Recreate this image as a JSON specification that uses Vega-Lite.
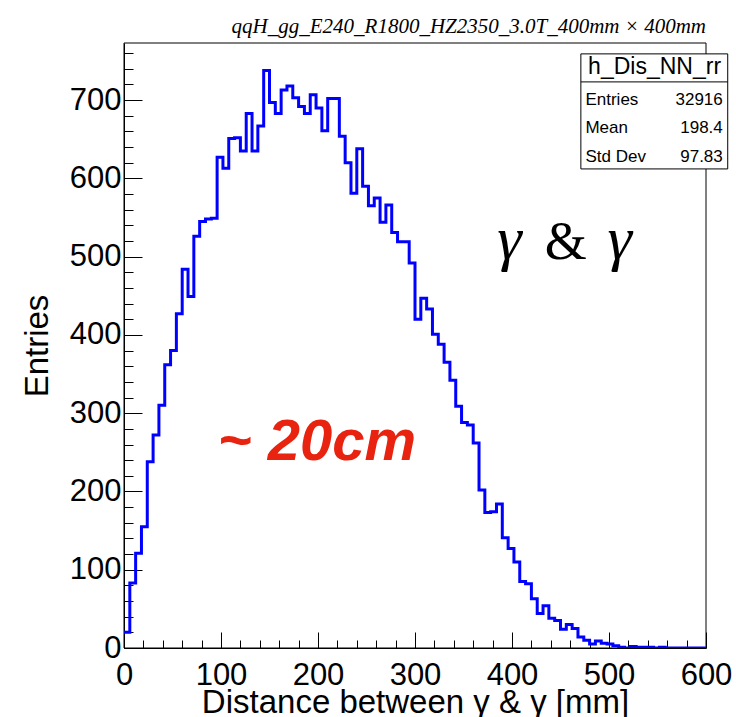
{
  "$schema": "https://vega.github.io/schema/vega-lite/v6.json",
  "width": 582,
  "height": 605,
  "autosize": "none",
  "padding": {"left": 124, "top": 43, "right": 30, "bottom": 69},
  "background": "white",
  "title": {
    "text": "qqH_gg_E240_R1800_HZ2350_3.0T_400mm × 400mm",
    "anchor": "end",
    "frame": "group",
    "font": "Liberation Serif",
    "fontStyle": "italic",
    "fontWeight": "normal",
    "fontSize": 21,
    "color": "black",
    "baseline": "alphabetic",
    "offset": -17
  },
  "config": {
    "view": {"stroke": null},
    "axis": {
      "grid": false,
      "domainColor": "black",
      "domainWidth": 1,
      "tickColor": "black",
      "tickWidth": 1,
      "labelColor": "black",
      "titleColor": "black",
      "labelFont": "Liberation Sans",
      "titleFont": "Liberation Sans",
      "labelFontSize": 31,
      "titleFontSize": 33,
      "titleFontWeight": "normal",
      "labelOverlap": false,
      "labelFlush": false,
      "labelBound": false
    }
  },
  "layer": [
    {
      "data": {"values": [{}]},
      "mark": {"type": "rect", "fill": null, "fillOpacity": 0, "stroke": "black", "strokeWidth": 1},
      "encoding": {
        "x": {"datum": 0, "type": "quantitative"}, "x2": {"datum": 600},
        "y": {"datum": 0, "type": "quantitative"}, "y2": {"datum": 773}
      }
    },
    {
      "data": {
        "values": [
          {"lo": 0, "entries": 20}, {"lo": 6, "entries": 83}, {"lo": 12, "entries": 121}, {"lo": 18, "entries": 155},
          {"lo": 24, "entries": 238}, {"lo": 30, "entries": 272}, {"lo": 36, "entries": 310}, {"lo": 42, "entries": 362},
          {"lo": 48, "entries": 380}, {"lo": 54, "entries": 427}, {"lo": 60, "entries": 484}, {"lo": 66, "entries": 449},
          {"lo": 72, "entries": 526}, {"lo": 78, "entries": 545}, {"lo": 84, "entries": 548}, {"lo": 90, "entries": 549},
          {"lo": 96, "entries": 627}, {"lo": 102, "entries": 613}, {"lo": 108, "entries": 651}, {"lo": 114, "entries": 652},
          {"lo": 120, "entries": 635}, {"lo": 126, "entries": 683}, {"lo": 132, "entries": 635}, {"lo": 138, "entries": 667},
          {"lo": 144, "entries": 738}, {"lo": 150, "entries": 697}, {"lo": 156, "entries": 683}, {"lo": 162, "entries": 713},
          {"lo": 168, "entries": 718}, {"lo": 174, "entries": 703}, {"lo": 180, "entries": 692}, {"lo": 186, "entries": 683},
          {"lo": 192, "entries": 707}, {"lo": 198, "entries": 690}, {"lo": 204, "entries": 661}, {"lo": 210, "entries": 702},
          {"lo": 216, "entries": 702}, {"lo": 222, "entries": 654}, {"lo": 228, "entries": 620}, {"lo": 234, "entries": 581},
          {"lo": 240, "entries": 638}, {"lo": 246, "entries": 590}, {"lo": 252, "entries": 565}, {"lo": 258, "entries": 575},
          {"lo": 264, "entries": 544}, {"lo": 270, "entries": 566}, {"lo": 276, "entries": 531}, {"lo": 282, "entries": 519},
          {"lo": 288, "entries": 519}, {"lo": 294, "entries": 492}, {"lo": 300, "entries": 420}, {"lo": 306, "entries": 447},
          {"lo": 312, "entries": 433}, {"lo": 318, "entries": 401}, {"lo": 324, "entries": 388}, {"lo": 330, "entries": 365},
          {"lo": 336, "entries": 342}, {"lo": 342, "entries": 309}, {"lo": 348, "entries": 288}, {"lo": 354, "entries": 285},
          {"lo": 360, "entries": 262}, {"lo": 366, "entries": 202}, {"lo": 372, "entries": 173}, {"lo": 378, "entries": 174},
          {"lo": 384, "entries": 184}, {"lo": 390, "entries": 141}, {"lo": 396, "entries": 127}, {"lo": 402, "entries": 110},
          {"lo": 408, "entries": 85}, {"lo": 414, "entries": 82}, {"lo": 420, "entries": 63}, {"lo": 426, "entries": 44},
          {"lo": 432, "entries": 54}, {"lo": 438, "entries": 38}, {"lo": 444, "entries": 35}, {"lo": 450, "entries": 24},
          {"lo": 456, "entries": 30}, {"lo": 462, "entries": 25}, {"lo": 468, "entries": 14}, {"lo": 474, "entries": 10},
          {"lo": 480, "entries": 5}, {"lo": 486, "entries": 9}, {"lo": 492, "entries": 6}, {"lo": 498, "entries": 5},
          {"lo": 504, "entries": 3}, {"lo": 510, "entries": 1}, {"lo": 516, "entries": 0}, {"lo": 522, "entries": 2},
          {"lo": 528, "entries": 1}, {"lo": 534, "entries": 1}, {"lo": 540, "entries": 1}, {"lo": 546, "entries": 0},
          {"lo": 552, "entries": 1}, {"lo": 558, "entries": 0}, {"lo": 564, "entries": 0}, {"lo": 570, "entries": 0},
          {"lo": 576, "entries": 0}, {"lo": 582, "entries": 0}, {"lo": 588, "entries": 0}, {"lo": 594, "entries": 0},
          {"lo": 600, "entries": 0}
        ]
      },
      "mark": {"type": "line", "interpolate": "step-after", "color": "#0000ff", "strokeWidth": 3, "clip": true},
      "encoding": {
        "x": {
          "field": "lo", "type": "quantitative",
          "scale": {"domain": [0, 600], "nice": false, "zero": false},
          "axis": {
            "title": "Distance between γ & γ [mm]",
            "titleFontSize": 33,
            "values": [0, 20, 40, 60, 80, 100, 120, 140, 160, 180, 200, 220, 240, 260, 280, 300, 320, 340, 360, 380, 400, 420, 440, 460, 480, 500, 520, 540, 560, 580, 600],
            "tickCount": 200,
            "labelExpr": "datum.value % 100 === 0 ? datum.label : ''",
            "labelOverlap": false,
            "labelFlush": false,
            "tickSize": {"condition": {"test": "datum.value % 100 === 0", "value": -16}, "value": -8},
            "labelPadding": 28,
            "titlePadding": -12
          }
        },
        "y": {
          "field": "entries", "type": "quantitative",
          "scale": {"domain": [0, 773], "nice": false, "zero": false},
          "axis": {
            "title": "Entries",
            "values": [0, 20, 40, 60, 80, 100, 120, 140, 160, 180, 200, 220, 240, 260, 280, 300, 320, 340, 360, 380, 400, 420, 440, 460, 480, 500, 520, 540, 560, 580, 600, 620, 640, 660, 680, 700, 720, 740, 760],
            "tickCount": 200,
            "labelExpr": "datum.value % 100 === 0 ? datum.label : ''",
            "labelOverlap": false,
            "labelFlush": false,
            "tickSize": {"condition": {"test": "datum.value % 100 === 0", "value": -18}, "value": -9},
            "labelPadding": 21,
            "titlePadding": 15
          }
        }
      }
    },
    {
      "data": {"values": [{}]},
      "mark": {"type": "text", "text": "~ 20cm", "font": "Liberation Sans", "fontSize": 58, "fontWeight": "bold", "fontStyle": "italic", "color": "#E8230F", "align": "left", "baseline": "alphabetic"},
      "encoding": {"x": {"datum": 96.6, "type": "quantitative"}, "y": {"datum": 240.3, "type": "quantitative"}}
    },
    {
      "data": {"values": [{}]},
      "mark": {"type": "text", "text": "γ", "font": "Liberation Serif", "fontSize": 62, "fontStyle": "italic", "color": "black", "align": "center", "baseline": "alphabetic"},
      "encoding": {"x": {"datum": 397.5, "type": "quantitative"}, "y": {"datum": 497.1, "type": "quantitative"}}
    },
    {
      "data": {"values": [{}]},
      "mark": {"type": "text", "text": "&", "font": "Liberation Serif", "fontSize": 54, "color": "black", "align": "center", "baseline": "alphabetic"},
      "encoding": {"x": {"datum": 455.5, "type": "quantitative"}, "y": {"datum": 497.1, "type": "quantitative"}}
    },
    {
      "data": {"values": [{}]},
      "mark": {"type": "text", "text": "γ", "font": "Liberation Serif", "fontSize": 62, "fontStyle": "italic", "color": "black", "align": "center", "baseline": "alphabetic"},
      "encoding": {"x": {"datum": 511.0, "type": "quantitative"}, "y": {"datum": 497.1, "type": "quantitative"}}
    },
    {
      "data": {"values": [{}]},
      "mark": {"type": "rect", "fill": "white", "stroke": "black", "strokeWidth": 1},
      "encoding": {
        "x": {"datum": 471.0, "type": "quantitative"}, "x2": {"datum": 622.4},
        "y": {"datum": 759.1, "type": "quantitative"}, "y2": {"datum": 612.1}
      }
    },
    {
      "data": {"values": [{}]},
      "mark": {"type": "rule", "color": "black", "strokeWidth": 1},
      "encoding": {
        "x": {"datum": 471.0, "type": "quantitative"}, "x2": {"datum": 622.4},
        "y": {"datum": 723.3, "type": "quantitative"}
      }
    },
    {
      "data": {"values": [{}]},
      "mark": {"type": "text", "text": "h_Dis_NN_rr", "font": "Liberation Sans", "fontSize": 23, "color": "black", "align": "center", "baseline": "middle"},
      "encoding": {"x": {"datum": 547.0, "type": "quantitative"}, "y": {"datum": 742.5, "type": "quantitative"}}
    },
    {
      "data": {"values": [{}]},
      "mark": {"type": "text", "text": ["Entries", "Mean", "Std Dev"], "lineHeight": 28.5, "font": "Liberation Sans", "fontSize": 17, "color": "black", "align": "left", "baseline": "middle"},
      "encoding": {"x": {"datum": 475.7, "type": "quantitative"}, "y": {"datum": 700.3, "type": "quantitative"}}
    },
    {
      "data": {"values": [{}]},
      "mark": {"type": "text", "text": ["32916", "198.4", "97.83"], "lineHeight": 28.5, "font": "Liberation Sans", "fontSize": 17, "color": "black", "align": "right", "baseline": "middle"},
      "encoding": {"x": {"datum": 617.3, "type": "quantitative"}, "y": {"datum": 700.3, "type": "quantitative"}}
    }
  ]
}
